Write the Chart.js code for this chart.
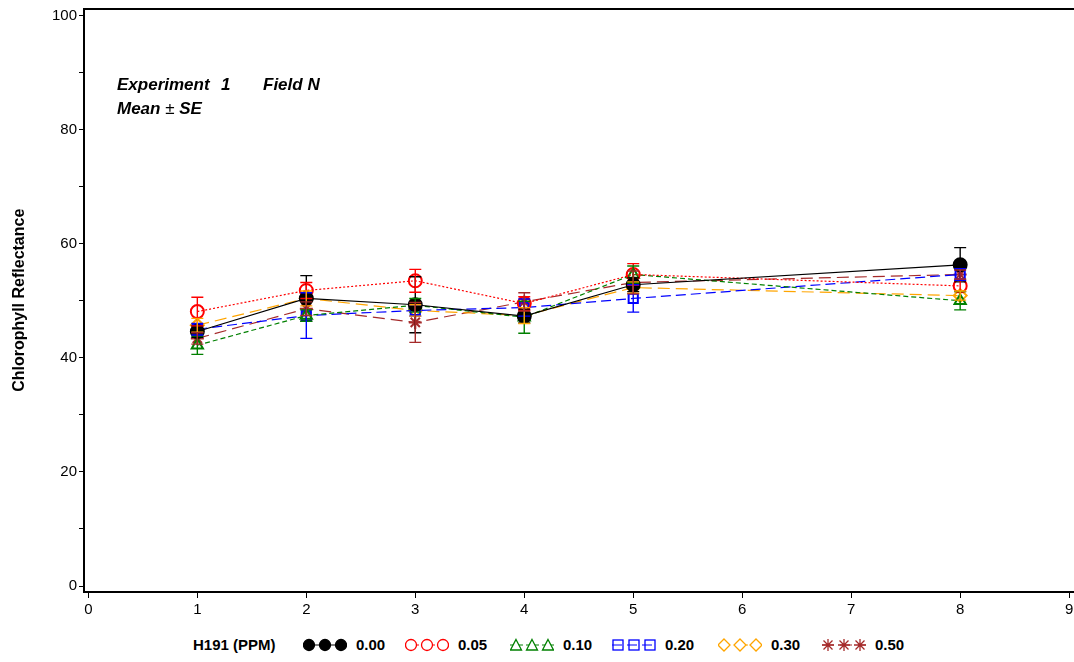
<!DOCTYPE html>
<html>
<head>
<meta charset="utf-8">
<script src="https://cdn.jsdelivr.net/npm/chart.js@4"></script>
<style>
  html, body { margin: 0; background: #fff; overflow: hidden; font-family: "Liberation Sans", Arial, sans-serif; }
  #wrap { position: relative; width: 1074px; height: 662px; overflow: hidden; }
  #chart { position: absolute; left: 0; top: 0; }
  .note { position: absolute; font: italic bold 17px "Liberation Sans", Arial, sans-serif; white-space: pre; color: #000; }
  .leg { position: absolute; top: 636px; font: bold 15px "Liberation Sans Narrow", "Liberation Sans", Arial, sans-serif; color: #000; white-space: nowrap; }
  .leg svg { position: absolute; top: 2px; }
</style>
</head>
<body>
<div id="wrap">
  <canvas id="chart" width="1082" height="630"></canvas>
  <div class="note" style="top:75px;left:117px">Experiment</div>
  <div class="note" style="top:75px;left:221px">1</div>
  <div class="note" style="top:75px;left:263px">Field N</div>
  <div class="note" style="top:99px;left:117px">Mean <span style="font-weight:normal;font-style:normal">±</span> SE</div>
  <div id="legend"></div>
</div>
<script>
// time points
const days = [1, 2, 3, 4, 5, 8];
const doses = ["0.00", "0.05", "0.10", "0.20", "0.30", "0.50"];

// means per dose
const mean000 = [44.6, 50.4, 49.3, 47.3, 52.8, 56.3];
const mean005 = [48.1, 51.8, 53.5, 49.5, 54.6, 52.6];
const mean010 = [42.2, 47.4, 49.2, 47.1, 54.6, 50.0];
const mean020 = [45.0, 47.4, 48.3, 48.8, 50.4, 54.6];
const mean030 = [45.7, 50.4, 48.3, 47.4, 52.3, 50.9];
const mean050 = [43.4, 48.6, 46.2, 49.8, 53.2, 54.6];

// standard errors
const se000 = [1.0, 4.0, 4.9, 1.2, 1.2, 3.0];
const se005 = [2.5, 1.4, 2.0, 1.2, 1.9, 1.0];
const se010 = [1.6, 1.0, 1.2, 2.8, 1.5, 1.6];
const se020 = [1.0, 4.0, 1.0, 1.5, 2.4, 1.0];
const se030 = [1.2, 1.3, 1.0, 1.4, 1.0, 0.8];
const se050 = [1.0, 1.2, 3.5, 1.6, 2.0, 0.8];

const xTicks = [0, 1, 2, 3, 4, 5, 6, 7, 8, 9];
const yTicks = [0, 10, 20, 30, 40, 50, 60, 70, 80, 90, 100];

const means = [mean000, mean005, mean010, mean020, mean030, mean050];
const ses = [se000, se005, se010, se020, se030, se050];

const styles = [
  { color: "#000000", dash: [], point: "circle", fill: "#000000", radius: 6.5 },
  { color: "#ff0000", dash: [2, 2], point: "circle", fill: "rgba(0,0,0,0)", radius: 6.5 },
  { color: "#008000", dash: [5, 3], point: "triangle", fill: "rgba(0,0,0,0)", radius: 6.5 },
  { color: "#0000ff", dash: [10, 5], point: "rect", fill: "rgba(0,0,0,0)", radius: 6.5 },
  { color: "#ffa500", dash: [12, 6], point: "rectRot", fill: "rgba(0,0,0,0)", radius: 6.5 },
  { color: "#a52a2a", dash: [12, 6], point: "star", fill: "rgba(0,0,0,0)", radius: 6.5 },
];

const datasets = doses.map((d, i) => ({
  label: d,
  data: days.map((x, j) => ({ x: x, y: means[i][j] })),
  se: ses[i],
  borderColor: styles[i].color,
  borderWidth: 1.2,
  borderDash: styles[i].dash,
  pointStyle: styles[i].point,
  pointRadius: styles[i].radius,
  pointBorderWidth: 2,
  pointBorderColor: styles[i].color,
  pointBackgroundColor: styles[i].fill,
  tension: 0,
}));

const errorBars = {
  id: "errorBars",
  afterDatasetsDraw(chart) {
    const ctx = chart.ctx;
    const xs = chart.scales.x, ys = chart.scales.y;
    ctx.save();
    chart.data.datasets.forEach((ds) => {
      ctx.strokeStyle = ds.borderColor;
      ctx.lineWidth = 1.4;
      ctx.setLineDash([]);
      ds.data.forEach((p, j) => {
        const px = xs.getPixelForValue(p.x);
        const top = ys.getPixelForValue(p.y + ds.se[j]);
        const bot = ys.getPixelForValue(p.y - ds.se[j]);
        ctx.beginPath();
        ctx.moveTo(px, top); ctx.lineTo(px, bot);
        ctx.moveTo(px - 6, top); ctx.lineTo(px + 6, top);
        ctx.moveTo(px - 6, bot); ctx.lineTo(px + 6, bot);
        ctx.stroke();
      });
    });
    ctx.restore();
  }
};

const tickFont = { family: "'Liberation Sans Narrow', 'Liberation Sans', Arial", size: 15 };

// drop the edge padding Chart.js reserves for half tick labels
function noEdgePad(s) {
  s.paddingTop = 0; s.paddingBottom = 0; s.paddingLeft = 0; s.paddingRight = 0;
}

new Chart(document.getElementById("chart"), {
  type: "line",
  data: { datasets: datasets },
  plugins: [errorBars],
  options: {
    responsive: false,
    animation: false,
    devicePixelRatio: 1,
    layout: { padding: 0 },
    plugins: { legend: { display: false }, tooltip: { enabled: false } },
    scales: {
      x: {
        type: "linear",
        position: "bottom",
        min: -0.04,
        max: 9.04,
        afterBuildTicks: (s) => { s.ticks = xTicks.map((v) => ({ value: v })); },
        afterFit: (s) => { s.height = 38; noEdgePad(s); },
        ticks: { color: "#000", font: tickFont, padding: 3, maxRotation: 0 },
        grid: { drawOnChartArea: false, color: "#000", tickLength: 6 },
        border: { color: "#000", width: 2 },
      },
      xTop: {
        type: "linear",
        position: "top",
        min: -0.04,
        max: 9.04,
        ticks: { display: false },
        grid: { display: false },
        border: { color: "#000", width: 2 },
        afterFit: (s) => { s.height = 7; noEdgePad(s); },
      },
      y: {
        min: -1.05,
        max: 101.22,
        afterBuildTicks: (s) => { s.ticks = yTicks.map((v) => ({ value: v })); },
        afterFit: (s) => { s.width = 84; noEdgePad(s); },
        ticks: {
          color: "#000",
          font: { family: "'Liberation Sans', Arial", size: 15 },
          padding: 2,
          callback: (v) => (v % 20 === 0 ? v : ""),
        },
        grid: { drawOnChartArea: false, color: "#000", tickLength: 5 },
        border: { color: "#000", width: 2 },
        title: {
          display: true,
          text: "Chlorophyll Reflectance",
          color: "#000",
          font: { family: "'Liberation Sans', Arial", size: 16, weight: "bold" },
          padding: { top: 10, bottom: 0 },
        },
      },
    },
  },
});

// legend
function markerSvg(st) {
  const c = st.color;
  let line = `<line x1="0" y1="7" x2="44" y2="7" stroke="${c}" stroke-width="1" stroke-dasharray="${st.dash.join(",")}"/>`;
  let m = "";
  [6, 22, 38].forEach((cx) => {
    if (st.point === "circle") m += `<circle cx="${cx}" cy="7" r="5.5" stroke="${c}" stroke-width="1.3" fill="${st.fill === "#000000" ? "#000" : "#fff"}"/>`;
    if (st.point === "triangle") m += `<polygon points="${cx},1.5 ${cx + 5.5},12 ${cx - 5.5},12" stroke="${c}" stroke-width="1.3" fill="#fff"/>`;
    if (st.point === "rect") m += `<rect x="${cx - 5}" y="2" width="10" height="10" stroke="${c}" stroke-width="1.3" fill="none"/>`;
    if (st.point === "rectRot") m += `<polygon points="${cx},1 ${cx + 6},7 ${cx},13 ${cx - 6},7" stroke="${c}" stroke-width="1.3" fill="#fff"/>`;
    if (st.point === "star") m += `<path d="M${cx - 6} 7H${cx + 6}M${cx} 1V13M${cx - 4.5} 2.5L${cx + 4.5} 11.5M${cx + 4.5} 2.5L${cx - 4.5} 11.5" stroke="${c}" stroke-width="1.3"/>`;
  });
  return `<svg width="44" height="14">${line}${m}</svg>`;
}
const legendPos = [303, 405, 510, 612, 718, 822];
let html = `<div class="leg" style="left:193px">H191 (PPM)</div>`;
doses.forEach((d, i) => {
  html += `<div class="leg" style="left:${legendPos[i]}px;width:100px">${markerSvg(styles[i])}<span style="position:absolute;left:53px">${d}</span></div>`;
});
document.getElementById("legend").innerHTML = html;
</script>
</body>
</html>
